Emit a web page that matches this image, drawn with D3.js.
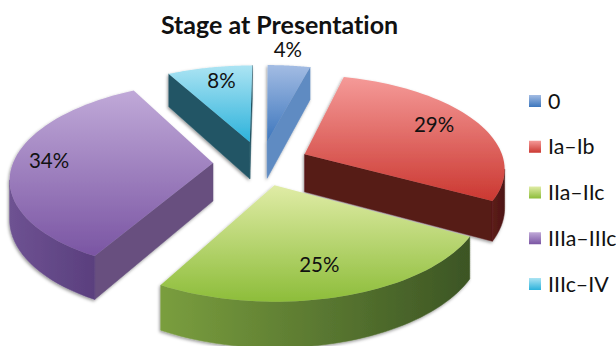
<!DOCTYPE html>
<html>
<head>
<meta charset="utf-8">
<script src="https://cdn.jsdelivr.net/npm/d3@7"></script>
<style>
  html, body { margin: 0; padding: 0; background: #fff; overflow: hidden; }
  svg { display: block; }
  text { font-family: Lato, "Open Sans", sans-serif; fill: #111; font-variant-ligatures: none; }
</style>
</head>
<body>
<svg id="chart" width="616" height="346"></svg>
<script>
const chartTitle = "Stage at Presentation";
const stages = ["0", "Ia\u2013Ib", "IIa\u2013IIc", "IIIa\u2013IIIc", "IIIc\u2013IV"];
const shares = [4, 29, 25, 34, 8];

// Per-slice colours: top face gradient, radial wall, outer wall gradient
const topLight  = ["#a3bce3", "#f59a98", "#e0eca6", "#c0a9d8", "#ace4f3"];
const topDark   = ["#3c76bd", "#cb3831", "#8dbd3a", "#7a55a3", "#2cb2db"];
const wallRadial = ["#5f8bc2", "#571a18", "#4f6d2b", "#67507f", "#235565"];
const wallOuterA = ["#5f8bc2", "#5c1c1a", "#7a9e3e", "#6e5292", "#235565"];
const wallOuterB = ["#5f8bc2", "#4d1615", "#3c5524", "#5a3f7e", "#235565"];

// Percentage label placement: distance from the slice apex in disc radii,
// and a small turn in degrees away from the slice's middle direction
const labelRadius = [1.2, 0.76, 0.76, 0.82, 0.76];
const labelTurn = [-1.4, -1, 1.6, 0, 1.3];
// Back-to-front drawing order of the slices
const paintOrder = [4, 0, 3, 1, 2];

// Perspective disc: u runs right, v runs away from the viewer, both in radii.
// vx is the screen column the perspective converges towards.
const view = { cx: 261, cy: 163, vx: 271, rx: 200, ry: 93, depth: 0.142, thickness: 38, explode: 0.24 };

function project(u, v, drop) {
  const s = 1 / (1 + view.depth * v);
  return [view.vx + (view.cx - view.vx + u * view.rx) * s,
          view.cy + (-v * view.ry + (drop ? view.thickness : 0)) * s];
}

const svg = d3.select("#chart");
const defs = svg.append("defs");
const line = d3.line().curve(d3.curveLinearClosed);

function gradient(id, from, to, horizontal) {
  const g = defs.append("linearGradient").attr("id", id)
    .attr("x1", 0).attr("y1", 0)
    .attr("x2", horizontal ? 1 : 0).attr("y2", horizontal ? 0 : 1);
  g.append("stop").attr("offset", 0).attr("stop-color", from);
  g.append("stop").attr("offset", 1).attr("stop-color", to);
}

shares.forEach((_, i) => {
  gradient("top" + i, topLight[i], topDark[i], false);
  gradient("outer" + i, wallOuterA[i], wallOuterB[i], true);
});

const shadow = defs.append("filter").attr("id", "softShadow")
  .attr("x", "-10%").attr("y", "-10%").attr("width", "120%").attr("height", "120%");
shadow.append("feDropShadow").attr("dx", -1).attr("dy", 1.5).attr("stdDeviation", 1.6)
  .attr("flood-color", "#000").attr("flood-opacity", 0.4);

const arcs = d3.pie().sort(null).value(d => d)(shares);

const slices = arcs.map((a, i) => {
  const mid = (a.startAngle + a.endAngle) / 2;
  const ox = Math.sin(mid) * view.explode;
  const oy = Math.cos(mid) * view.explode;
  const at = (ang, r) => [ox + Math.sin(ang) * r, oy + Math.cos(ang) * r];
  const rim = d3.range(0, 49).map(k => at(a.startAngle + (a.endAngle - a.startAngle) * k / 48, 1));
  return { i, mid, apex: [ox, oy], rim, at };
});

// A wall is drawn only where the top edge runs right-to-left on screen
function wallPolygon(points) {
  const top = points.map(p => project(p[0], p[1], false));
  const bottom = points.map(p => project(p[0], p[1], true)).reverse();
  return top.concat(bottom);
}
function visibleRuns(points) {
  const runs = [];
  let run = null;
  for (let k = 0; k < points.length - 1; k++) {
    const a = project(points[k][0], points[k][1], false);
    const b = project(points[k + 1][0], points[k + 1][1], false);
    if (b[0] < a[0]) {
      if (!run) { run = [points[k]]; runs.push(run); }
      run.push(points[k + 1]);
    } else {
      run = null;
    }
  }
  return runs;
}

const pie = svg.append("g");
paintOrder.forEach(idx => {
  const s = slices[idx];
  const g = pie.append("g").attr("filter", "url(#softShadow)");
  const addWall = (pts, fill) => visibleRuns(pts).forEach(run => {
    g.append("path").attr("d", line(wallPolygon(run)))
      .attr("fill", fill).attr("stroke", fill).attr("stroke-width", 0.5);
  });
  addWall([s.apex, s.rim[0]], wallRadial[idx]);
  addWall(s.rim, `url(#outer${idx})`);
  addWall([s.rim[s.rim.length - 1], s.apex], wallRadial[idx]);

  const outline = [s.apex].concat(s.rim).map(p => project(p[0], p[1], false));
  g.append("path").attr("d", line(outline)).attr("fill", `url(#top${idx})`);
});

// Percentage labels
const labelPoint = s => {
  const p = s.at(s.mid + labelTurn[s.i] * Math.PI / 180, labelRadius[s.i]);
  return project(p[0], p[1], false);
};
svg.append("g").selectAll("text").data(slices).join("text")
  .attr("text-anchor", "middle")
  .attr("font-size", 20.5)
  .attr("dy", "0.22em")
  .attr("x", s => labelPoint(s)[0])
  .attr("y", s => labelPoint(s)[1])
  .text(s => shares[s.i] + "%");

svg.append("text")
  .attr("x", 279.5).attr("y", 34)
  .attr("text-anchor", "middle")
  .attr("font-size", 25).attr("font-weight", 700)
  .text(chartTitle);

// Legend
const legendY = d3.scalePoint().domain(stages).range([101, 284]);
const legend = svg.append("g").selectAll("g").data(stages).join("g")
  .attr("transform", d => `translate(529,${legendY(d)})`);
legend.append("rect").attr("x", 0).attr("y", -6).attr("width", 12).attr("height", 12)
  .attr("fill", (d, i) => `url(#top${i})`);
legend.append("text").attr("x", 19).attr("dy", "0.35em")
  .attr("font-size", 21.4).text(d => d);
</script>
</body>
</html>
